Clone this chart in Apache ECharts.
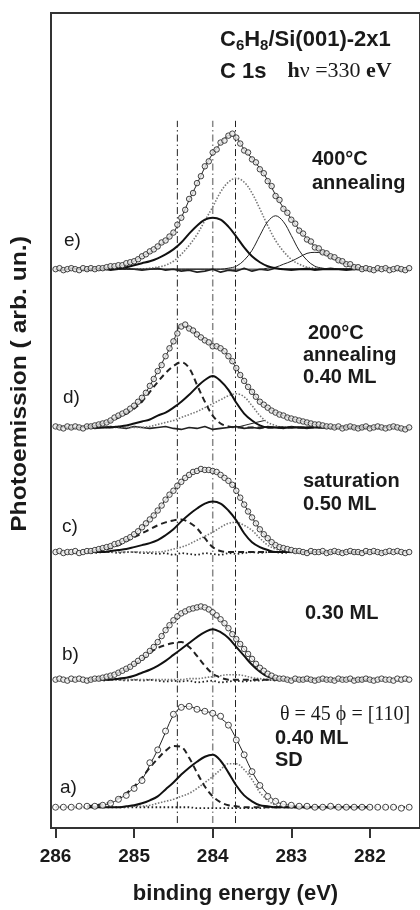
<!DOCTYPE html>
<html><head><meta charset="utf-8">
<script src="https://cdn.jsdelivr.net/npm/echarts@6/dist/echarts.min.js"></script>
<style>html,body{margin:0;padding:0;background:#fff}#c{width:420px;height:910px}</style>
</head><body><div id="c"></div>
<script>
// ---------- axis / reference data ----------
const tickValues = [286, 285, 284, 283, 282];
const refLineE = [284.45, 284.0, 283.71];
const refLineSpan = [5, 715];
const offsets = { a: 21, b: 150, c: 279, d: 405, e: 565 };

// fit-curve energy grid (eV)
const fitE = [285.6,285.5,285.4,285.3,285.2,285.1,285.0,284.9,284.8,284.7,284.6,284.5,284.4,284.3,284.2,284.1,284.0,283.9,283.8,283.7,283.6,283.5,283.4,283.3,283.2,283.1,283.0,282.9,282.8,282.7,282.6,282.5,282.4,282.3,282.2,282.1,282.0];
// measured-point energy grids (eV)
const dataE = Array.from({length: 91}, (_, i) => +(286 - 0.05 * i).toFixed(2));
const coarseE = Array.from({length: 46}, (_, i) => +(286 - 0.1 * i).toFixed(1));

// ---------- panel e) 400°C annealing ----------
const eFit   = [0,1,1,2,3,5,8,13,17,23,29,37,52,70,86,103,117,127,135,133,121,112,102,90,75,62,51,40,31,23,18,14,10,6,3,1,0];
const eThick = [0,0,0,0,1,2,4,6,8,11,15,20,27,36,44,50,52,50,43,33,22,13,7,3,1,0,0,0,0,0,0,0,0,0,0,0,0];
const eDot   = [0,0,0,0,0,0,0,0,1,2,4,8,15,24,35,49,63,78,88,92,88,77,61,44,29,18,10,5,2,1,0,0,0,0,0,0,0];
const eThin1 = [0,0,0,0,0,0,0,0,0,0,0,0,0,0,0,0,0,0,1,3,9,19,34,48,54,48,34,19,9,3,1,0,0,0,0,0,0];
const eThin2 = [0,0,0,0,0,0,0,0,0,0,0,0,0,0,0,0,0,0,0,0,0,0,0,1,2,5,8,12,16,17,16,12,8,5,2,1,0];
const eData  = [0,1,-1,0,1,0,-1,1,0,1, 0,1,1,2,3,3,4,4,6,7, 8,10,13,15,18,20,23,27,29,33, 37,45,52,60,71,77,87,94,104,109,
                118,121,128,130,135,137,133,127,120,118, 111,108,101,97,89,84,74,70,61,57, 50,46,39,36,30,28,22,21,17,16,
                13,12,9,8,5,5,2,2,0,1, 0,-1,1,0,1,-1,0,1,0,-1,1];
const eRes   = [0,-1,1,0,-1,0,1,-1,0,1, 0,-1,0,1,-1,0,-2,-1,-3,-2, 0,-3,-1,-2,1,-2,0,-1,1,0, -1,0,1,-1,0,1,0,-1,0,1, -1,0,1,0,-1,0];

// ---------- panel d) 200°C annealing 0.40 ML ----------
const dFit   = [1,2,4,7,12,16,22,30,42,57,72,87,103,100,94,88,83,80,72,60,47,36,26,20,15,12,9,7,5,3,2,1,0,0,0,0,0];
const dDash  = [1,2,4,6,10,14,19,26,36,46,55,62,66,60,43,26,12,4,1,0,0,0,0,0,0,0,0,0,0,0,0,0,0,0,0,0,0];
const dSolid = [0,0,0,0,1,2,4,6,8,12,15,20,26,33,41,48,52,47,38,25,14,7,2,0,0,0,0,0,0,0,0,0,0,0,0,0,0];
const dDot   = [0,0,0,0,0,0,0,0,1,3,5,7,10,13,16,20,24,28,32,34,31,22,12,5,2,0,0,0,0,0,0,0,0,0,0,0,0];
const dSmallE = [283.75, 283.65, 283.55, 283.45, 283.34];
const dSmall  = [0, 1, 3, 5, 7];
const dData  = [1,0,-1,1,0,1,0,-1,1,1, 2,3,4,5,7,10,12,14,16,19, 22,26,30,35,42,49,57,63,72,80, 87,95,102,104,100,98,94,91,88,86,
                82,82,80,77,72,67,60,53,47,41, 36,31,26,23,20,17,15,13,12,10, 9,8,7,6,5,4,3,3,2,1,
                1,0,1,-1,0,1,0,-1,0,1, -1,0,1,0,-1,0,1,0,-1,-2,0];
const dRes   = [0,1,-1,0,1,-1,0,1,0,-1, 1,0,-1,0,1,-1,-2,0,-1,1, -2,-1,0,1,-1,0,-1,1,0,-1, 1,0,-1,1,0,-1,0,1,-1,0, 1,-1,0,1,-2,0];

// ---------- panel c) saturation 0.50 ML ----------
const cFit   = [1,2,4,6,9,13,18,25,33,42,53,62,71,78,82,83,82,78,72,62,48,35,23,14,7,4,2,1,0,0,0,0,0,0,0,0,0];
const cDash  = [0,1,2,4,7,11,15,19,23,27,30,32,33,30,24,14,5,1,0,0,0,0,0,0,0,0,0,0,0,0,0,0,0,0,0,0,0];
const cSolid = [0,0,0,1,2,3,5,7,9,12,17,23,31,38,44,49,51,49,42,32,19,10,5,2,0,0,0,0,0,0,0,0,0,0,0,0,0];
const cDot   = [0,0,0,0,0,0,0,0,0,0,1,3,5,8,12,16,20,25,29,30,27,22,14,7,3,1,0,0,0,0,0,0,0,0,0,0,0];
const cData  = [0,1,-1,0,0,1,-1,0,1,1, 2,3,4,5,6,8,9,11,13,15, 18,21,25,29,33,37,42,47,53,58, 62,67,71,75,78,81,82,84,83,83,
                82,81,78,75,72,68,62,55,48,41, 35,29,23,18,14,10,7,5,4,3, 2,1,1,0,-1,1,0,0,1,-1,
                0,1,0,-1,0,1,0,0,-1,1, 0,1,0,-1,0,1,0,1,0,-1,0];
const cRes   = [0,0,-1,0,0,-1,0,0,-1,0, 0,-1,-1,-2,-1,-3,-1,-2,-3,-1, -2,-3,-1,-2,-1,0,-1,0,0,-1, 0,0,-1,0,0,-1,0,0,-1,0, 0,0,-1,0,0,0];

// ---------- panel b) 0.30 ML ----------
const bFit   = [0,1,2,4,7,11,16,22,29,38,50,60,67,71,73,73,66,60,52,41,31,21,12,6,2,1,0,0,0,0,0,0,0,0,0,0,0];
const bDash  = [0,1,2,4,7,10,15,20,27,32,35,37,38,33,24,14,6,2,0,0,0,0,0,0,0,0,0,0,0,0,0,0,0,0,0,0,0];
const bSolid = [0,0,0,0,1,2,4,7,10,14,19,25,31,37,43,48,51,48,42,33,24,15,8,3,1,0,0,0,0,0,0,0,0,0,0,0,0];
const bDot   = [0,0,0,0,0,0,0,0,0,0,0,0,0,1,1,2,3,4,5,5,4,2,1,0,0,0,0,0,0,0,0,0,0,0,0,0,0];
const bData  = [0,1,0,-1,1,0,1,0,-1,0, 1,1,2,3,4,5,7,9,11,13, 16,19,22,25,29,33,38,44,50,55, 60,64,67,69,71,72,73,74,73,71,
                68,65,61,57,52,46,41,36,31,26, 21,16,12,9,6,4,2,1,1,0, -1,1,0,0,1,0,-1,0,1,0,
                0,-1,1,0,0,1,-1,0,0,1, 0,-1,0,1,0,0,-1,1,0,1,0];
const bRes   = [0,0,-1,0,0,0,-1,0,0,-1, 0,-1,0,-1,-2,-1,-2,-1,-3,-2, -1,-3,-2,-1,-2,-1,-1,0,-1,0, 0,-1,0,0,0,-1,0,0,0,-1, 0,0,0,0,-1,0];

// ---------- panel a) 0.40 ML SD ----------
const aFit   = [1,1,2,4,8,13,20,28,43,58,76,93,101,102,99,97,95,90,83,69,53,36,23,13,6,3,2,1,1,0,0,0,0,0,0,0,0];
const aDash  = [1,2,3,5,9,14,21,30,40,49,57,62,61,50,35,21,11,5,2,1,0,0,0,0,0,0,0,0,0,0,0,0,0,0,0,0,0];
const aSolid = [0,0,0,0,0,1,2,4,7,11,18,25,33,40,46,51,53,47,35,22,12,6,2,1,0,0,0,0,0,0,0,0,0,0,0,0,0];
const aDot   = [0,0,0,0,0,0,1,1,2,4,6,8,11,14,19,25,31,38,44,44,38,28,15,7,2,1,0,0,0,0,0,0,0,0,0,0,0];
const aData  = [0,0,0,1,1,1,2,4,8,12,19,27,45,58,77,94,101,102,99,97,95,92,83,68,53,36,22,11,6,3,2,1,1,0,0,1,0,0,0,0,0,0,0,0,-1,0];
const aRes   = [0,0,0,0,0,0,0,0,0,0,0,0,0,0,0,0,0,0,-1,-1,-1,-1,-1,-1,-1,-1,-1,0,0,0,0,0,0,0,0,0,0,0,0,0,0,0,0,0,0,0];

// ---------- texts ----------
const panelLabels = ['a)', 'b)', 'c)', 'd)', 'e)'];
const yTitle = 'Photoemission ( arb. un.)';
const xTitle = 'binding energy (eV)';

// ---------- helpers ----------
const SANS = '"Liberation Sans", Arial, sans-serif';
const SERIF = '"Liberation Serif", "Times New Roman", serif';
function pts(xs, ys, off) { return xs.map((x, i) => [x, ys[i] + off]); }
const ST = {
  fit:   { color: '#222', width: 1 },
  thick: { color: '#111', width: 2 },
  dash:  { color: '#222', width: 2, type: [6, 4] },
  dot:   { color: '#777', width: 1.6, type: [1.5, 1.6] },
  thin:  { color: '#222', width: 1 },
  resS:  { color: '#222', width: 1.6 },
  resD:  { color: '#222', width: 1.8, type: [1.6, 2.4] }
};
function lineS(xs, ys, off, style, z, smooth) {
  return { type: 'line', data: pts(xs, ys, off), symbol: 'none', smooth: smooth === undefined ? 0.35 : smooth,
           lineStyle: style, z: z || 3, silent: true, animation: false };
}
function scat(xs, ys, off, size, fill) {
  return { type: 'scatter', data: pts(xs, ys, off), symbol: 'circle', symbolSize: size,
           itemStyle: { color: fill, borderColor: '#1a1a1a', borderWidth: 1 }, z: 5, silent: true, animation: false };
}

const series = [];
refLineE.forEach((E, k) => {
  series.push({ type: 'line', data: [[E, refLineSpan[0]], [E, refLineSpan[1]]], symbol: 'none', silent: true,
    lineStyle: { color: k === 1 ? '#888' : '#222', width: k === 1 ? 1.5 : 1, type: [7, 3, 1.5, 3] }, z: 1 });
});
// e
series.push(lineS(coarseE, eRes, offsets.e, ST.resS, 2, 0));
series.push(lineS(fitE, eDot, offsets.e, ST.dot));
series.push(lineS(fitE, eThin1, offsets.e, ST.thin));
series.push(lineS(fitE, eThin2, offsets.e, ST.thin));
series.push(lineS(fitE, eThick, offsets.e, ST.thick));
series.push(lineS(fitE, eFit, offsets.e, ST.fit));
series.push(scat(dataE, eData, offsets.e, 5.5, '#e6e6e6'));
// d
series.push(lineS(coarseE, dRes, offsets.d, ST.resS, 2, 0));
series.push(lineS(fitE, dDot, offsets.d, ST.dot));
series.push(lineS(fitE, dDash, offsets.d, ST.dash));
series.push(lineS(fitE, dSolid, offsets.d, ST.thick));
series.push(lineS(dSmallE, dSmall, offsets.d, ST.thin, 3, 0));
series.push(lineS(fitE, dFit, offsets.d, ST.fit));
series.push(scat(dataE, dData, offsets.d, 5.5, '#e6e6e6'));
// c
series.push(lineS(coarseE, cRes, offsets.c, ST.resD, 2, 0));
series.push(lineS(fitE, cDot, offsets.c, ST.dot));
series.push(lineS(fitE, cDash, offsets.c, ST.dash));
series.push(lineS(fitE, cSolid, offsets.c, ST.thick));
series.push(lineS(fitE, cFit, offsets.c, ST.fit));
series.push(scat(dataE, cData, offsets.c, 5.5, '#eeeeee'));
// b
series.push(lineS(coarseE, bRes, offsets.b, ST.resD, 2, 0));
series.push(lineS(fitE, bDot, offsets.b, ST.dot));
series.push(lineS(fitE, bDash, offsets.b, ST.dash));
series.push(lineS(fitE, bSolid, offsets.b, ST.thick));
series.push(lineS(fitE, bFit, offsets.b, ST.fit));
series.push(scat(dataE, bData, offsets.b, 5.5, '#f2f2f2'));
// a
series.push(lineS(coarseE, aRes, offsets.a, ST.resD, 2, 0));
series.push(lineS(fitE, aDot, offsets.a, ST.dot));
series.push(lineS(fitE, aDash, offsets.a, ST.dash));
series.push(lineS(fitE, aSolid, offsets.a, ST.thick));
series.push(lineS(fitE, aFit, offsets.a, ST.fit));
series.push(scat(coarseE, aData, offsets.a, 6, '#fff'));

function T(x, y, text, font, extra) {
  return Object.assign({ type: 'text', x: x, y: y, silent: true, z: 10,
    style: { text: text, font: font, fill: '#1a1a1a', textAlign: 'left', align: 'left',
             textVerticalAlign: 'middle', verticalAlign: 'middle' } }, extra || {});
}
const B20 = 'bold 20px ' + SANS;
const graphics = [
  // title
  { type: 'text', x: 220, y: 41.5, silent: true, z: 10, style: {
      text: '{b|C}{s|6}{b|H}{s|8}{b|/Si(001)-2x1}', textVerticalAlign: 'middle', verticalAlign: 'middle',
      rich: {
        b: { fontFamily: SANS, fontWeight: 'bold', fontSize: 22, lineHeight: 26, verticalAlign: 'top', fill: '#1a1a1a' },
        s: { fontFamily: SANS, fontWeight: 'bold', fontSize: 15, padding: [10, 0, 0, 0], verticalAlign: 'top', fill: '#1a1a1a' }
      } } },
  { type: 'text', x: 220, y: 73.5, silent: true, z: 10, style: {
      text: '{b|C 1s}{g| }{h|h}{n|\u03bd =330 }{h|eV}', textVerticalAlign: 'middle', verticalAlign: 'middle',
      rich: {
        b: { fontFamily: SANS, fontWeight: 'bold', fontSize: 22, lineHeight: 26, verticalAlign: 'top', fill: '#1a1a1a' },
        g: { fontFamily: SANS, fontSize: 22, lineHeight: 26, width: 21, verticalAlign: 'top' },
        h: { fontFamily: SERIF, fontWeight: 'bold', fontSize: 22, lineHeight: 26, verticalAlign: 'top', fill: '#1a1a1a' },
        n: { fontFamily: SERIF, fontWeight: 'normal', fontSize: 22, lineHeight: 26, verticalAlign: 'top', fill: '#1a1a1a' }
      } } },
  // annotations
  T(312, 159, '400°C', B20), T(312, 183, 'annealing', B20),
  T(308, 333, '200°C', B20), T(303, 355, 'annealing', B20), T(303, 377, '0.40 ML', B20),
  T(303, 481, 'saturation', B20), T(303, 504, '0.50 ML', B20),
  T(305, 613, '0.30 ML', B20),
  T(280, 715, '\u03b8 = 45 \u03d5 = [110]', 'normal 20px ' + SERIF),
  T(275, 738, '0.40 ML', B20), T(275, 760, 'SD', B20),
  // panel labels
  T(60, 788, panelLabels[0], 'normal 19px ' + SANS),
  T(62, 655, panelLabels[1], 'normal 19px ' + SANS),
  T(62, 527, panelLabels[2], 'normal 19px ' + SANS),
  T(63, 398, panelLabels[3], 'normal 19px ' + SANS),
  T(64, 241, panelLabels[4], 'normal 19px ' + SANS),
  // y title
  { type: 'text', x: 20, y: 384, rotation: Math.PI / 2, scaleX: 1.12, silent: true, z: 10,
    style: { text: yTitle, font: 'bold 22px ' + SANS, fill: '#1a1a1a', textAlign: 'center', align: 'center',
             textVerticalAlign: 'middle', verticalAlign: 'middle' } }
];

const chart = echarts.init(document.getElementById('c'), null, { renderer: 'canvas' });
chart.setOption({
  animation: false,
  backgroundColor: '#fff',
  grid: { left: 51, right: -10, top: 13, bottom: 73, show: true, borderColor: '#333', borderWidth: 2, backgroundColor: 'transparent' },
  xAxis: {
    type: 'value', inverse: true, min: 281.362, max: 286.058,
    axisLine: { show: true, lineStyle: { color: '#333', width: 2 } },
    axisTick: { show: true, inside: false, length: 10, customValues: tickValues, lineStyle: { color: '#333', width: 2 } },
    axisLabel: { customValues: tickValues, fontFamily: SANS, fontWeight: 'bold', fontSize: 19, color: '#1a1a1a', margin: 19,
                 formatter: v => String(Math.round(v)) },
    splitLine: { show: false },
    name: xTitle, nameLocation: 'middle', nameGap: 55,
    nameTextStyle: { fontFamily: SANS, fontWeight: 'bold', fontSize: 22, color: '#1a1a1a' }
  },
  yAxis: {
    type: 'value', min: 0, max: 824,
    axisLine: { show: false }, axisTick: { show: false }, axisLabel: { show: false }, splitLine: { show: false }
  },
  graphic: graphics,
  series: series
});
</script>
</body></html>
